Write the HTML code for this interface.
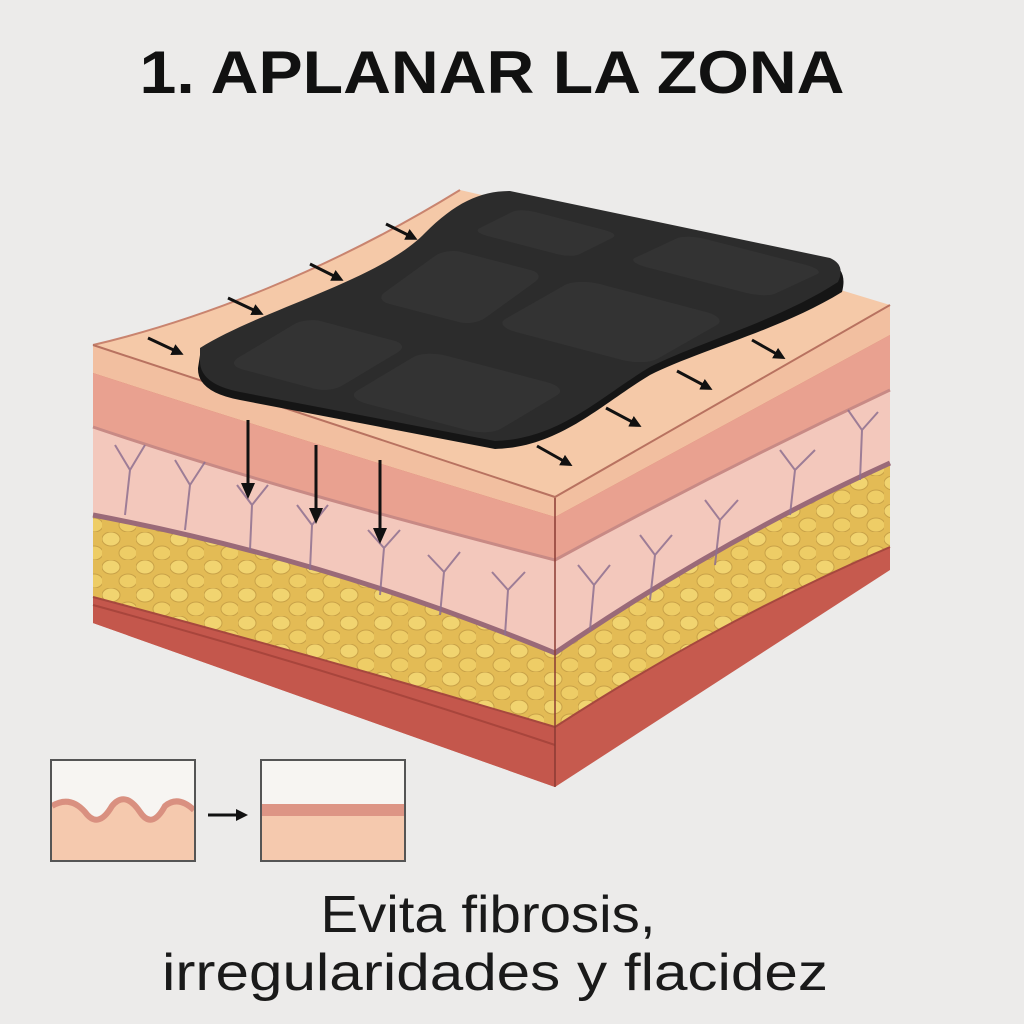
<!DOCTYPE html>
<html><head><meta charset="utf-8"><style>
html,body{margin:0;padding:0;background:#ecebea;}
svg{display:block}
</style></head><body>
<svg width="1024" height="1024" viewBox="0 0 1024 1024" xmlns="http://www.w3.org/2000/svg">
<defs>
<marker id="ah" markerWidth="12" markerHeight="12" refX="8" refY="6" orient="auto" markerUnits="userSpaceOnUse"><path d="M0,0 L12,6 L0,12 Z" fill="#111"/></marker>
<marker id="ah2" markerWidth="16" markerHeight="16" refX="12" refY="8" orient="auto" markerUnits="userSpaceOnUse"><path d="M0,1 L16,8 L0,15 Z" fill="#111"/></marker>
<pattern id="fat" width="34" height="28" patternUnits="userSpaceOnUse">
<rect width="34" height="28" fill="#e3bb55"/>
<ellipse cx="9" cy="7" rx="9" ry="7" fill="#f1d470" stroke="#c9a248" stroke-width="1"/>
<ellipse cx="26" cy="21" rx="9" ry="7" fill="#eecd66" stroke="#c9a248" stroke-width="1"/>
</pattern>
</defs>
<rect width="1024" height="1024" fill="#ecebea"/>
<text x="492" y="93" text-anchor="middle" textLength="705" lengthAdjust="spacingAndGlyphs" font-family="Liberation Sans, sans-serif" font-weight="bold" font-size="60" fill="#111">1. APLANAR LA ZONA</text>

<!-- left face -->
<path d="M93,345 L555,497 L555,787 L93,623 Z" fill="#c65a4e"/>
<path d="M93,597 Q330,660 555,727 L555,787 L93,623 Z" fill="#c4574c"/>
<path d="M93,605 Q330,670 555,745" fill="none" stroke="#a8453c" stroke-width="2"/>
<path d="M93,515 Q330,560 555,653 L555,727 Q330,660 93,597 Z" fill="url(#fat)"/>
<path d="M93,427 C250,480 400,520 555,560 L555,653 Q330,560 93,515 Z" fill="#f3c8bc"/>
<path d="M93,373 Q300,440 555,517 L555,560 C400,520 250,480 93,427 Z" fill="#e9a190"/>
<path d="M93,345 L555,497 L555,517 Q300,440 93,373 Z" fill="#f2bfa0"/>
<!-- right face -->
<path d="M555,497 L890,305 L890,570 L555,787 Z" fill="#c65a4e"/>
<path d="M555,653 Q720,540 890,463 L890,547 Q720,620 555,727 Z" fill="url(#fat)"/>
<path d="M555,560 Q720,470 890,390 L890,463 Q720,540 555,653 Z" fill="#f3c8bc"/>
<path d="M555,517 L890,335 L890,390 Q720,470 555,560 Z" fill="#e9a190"/>
<path d="M555,497 L890,305 L890,335 L555,517 Z" fill="#f2bfa0"/>
<!-- membranes -->
<path d="M93,515 Q330,560 555,653 Q720,540 890,463" fill="none" stroke="#9a6a78" stroke-width="5"/>
<path d="M93,427 C250,480 400,520 555,560 Q720,470 890,390" fill="none" stroke="#c88a85" stroke-width="3"/>
<path d="M93,597 Q330,660 555,727 Q720,620 890,547" fill="none" stroke="#a6483e" stroke-width="2"/>
<line x1="555" y1="497" x2="555" y2="787" stroke="#8a3a33" stroke-width="1.5"/>
<!-- fibers -->
<g stroke="#8f7090" stroke-width="2" fill="none" opacity="0.85">
<path d="M125,515 L130,470 L115,445 M130,470 L145,445"/>
<path d="M185,530 L190,485 L175,460 M190,485 L205,462"/>
<path d="M250,550 L252,505 L237,485 M252,505 L268,485"/>
<path d="M310,570 L312,525 L297,505 M312,525 L328,505"/>
<path d="M380,595 L384,548 L368,530 M384,548 L400,530"/>
<path d="M440,615 L444,572 L428,555 M444,572 L460,552"/>
<path d="M505,635 L508,590 L492,572 M508,590 L525,572"/>
<path d="M590,630 L594,585 L578,565 M594,585 L610,565"/>
<path d="M650,600 L655,555 L640,535 M655,555 L672,535"/>
<path d="M715,565 L720,520 L705,500 M720,520 L738,500"/>
<path d="M790,515 L795,470 L780,450 M795,470 L815,450"/>
<path d="M860,480 L862,430 L848,410 M862,430 L878,412"/>
</g>
<!-- top face -->
<path d="M93,345 C200,320 330,270 460,190 Q680,240 890,305 L555,497 Z" fill="#f5c9a8"/>
<path d="M93,345 C200,320 330,270 460,190" fill="none" stroke="#c9846f" stroke-width="2"/>
<path d="M93,345 L555,497 L890,305" fill="none" stroke="#b87260" stroke-width="2"/>
<!-- pad -->
<path d="M200,355 C260,315 380,285 425,237 C455,207 480,195 510,195 L830,262 Q848,270 842,292 C780,330 700,350 650,375 C600,405 560,447 495,449 L240,400 Q197,392 198,368 Z" fill="#151515"/>
<path d="M200,348 C260,310 380,280 425,233 C455,203 480,191 510,191 L830,258 Q846,265 838,282 C780,320 700,342 650,367 C600,397 560,439 495,441 L240,392 Q199,384 200,360 Z" fill="#2c2c2c"/>
<g fill="#333">
<rect x="-1" y="-1" width="2" height="2" rx="0.3" transform="matrix(52,14,40,-24,318,355)"/>
<rect x="-1" y="-1" width="2" height="2" rx="0.3" transform="matrix(72,19,40,-24,457,393)"/>
<rect x="-1" y="-1" width="2" height="2" rx="0.3" transform="matrix(50,13,36,-26,460,287)"/>
<rect x="-1" y="-1" width="2" height="2" rx="0.3" transform="matrix(76,20,42,-24,611,322)"/>
<rect x="-1" y="-1" width="2" height="2" rx="0.3" transform="matrix(50,13,24,-12,546,233)"/>
<rect x="-1" y="-1" width="2" height="2" rx="0.3" transform="matrix(70,18,30,-14,726,266)"/>
</g>
<!-- small arrows -->
<g stroke="#111" stroke-width="3" marker-end="url(#ah)">
<line x1="386" y1="224" x2="414" y2="238"/>
<line x1="310" y1="264" x2="340" y2="279"/>
<line x1="228" y1="298" x2="260" y2="313"/>
<line x1="148" y1="338" x2="180" y2="353"/>
<line x1="752" y1="340" x2="782" y2="357"/>
<line x1="677" y1="371" x2="709" y2="388"/>
<line x1="606" y1="408" x2="638" y2="425"/>
<line x1="537" y1="446" x2="569" y2="464"/>
</g>
<g stroke="#111" stroke-width="3" marker-end="url(#ah2)">
<line x1="248" y1="420" x2="248" y2="495"/>
<line x1="316" y1="445" x2="316" y2="520"/>
<line x1="380" y1="460" x2="380" y2="540"/>
</g>
<!-- insets -->
<rect x="51" y="760" width="144" height="101" fill="#f7f5f2"/>
<path d="M52,806 Q70,795 85,812 Q98,830 112,806 Q125,790 140,812 Q152,830 165,806 Q178,795 194,810 L194,860 L52,860 Z" fill="#f5c9ae"/>
<path d="M52,806 Q70,795 85,812 Q98,830 112,806 Q125,790 140,812 Q152,830 165,806 Q178,795 194,810" fill="none" stroke="#d99080" stroke-width="6"/>
<rect x="51" y="760" width="144" height="101" fill="none" stroke="#555" stroke-width="2"/>
<line x1="208" y1="815" x2="244" y2="815" stroke="#111" stroke-width="3" marker-end="url(#ah)"/>
<rect x="261" y="760" width="144" height="101" fill="#f7f5f2"/>
<rect x="262" y="804" width="142" height="56" fill="#f5c9ae"/>
<rect x="262" y="804" width="142" height="12" fill="#dd9585"/>
<rect x="261" y="760" width="144" height="101" fill="none" stroke="#555" stroke-width="2"/>
<text x="488" y="932" text-anchor="middle" textLength="335" lengthAdjust="spacingAndGlyphs" font-family="Liberation Sans, sans-serif" font-size="52" fill="#1a1a1a">Evita fibrosis,</text>
<text x="495" y="990" text-anchor="middle" textLength="666" lengthAdjust="spacingAndGlyphs" font-family="Liberation Sans, sans-serif" font-size="52" fill="#1a1a1a">irregularidades y flacidez</text>
</svg>
</body></html>
